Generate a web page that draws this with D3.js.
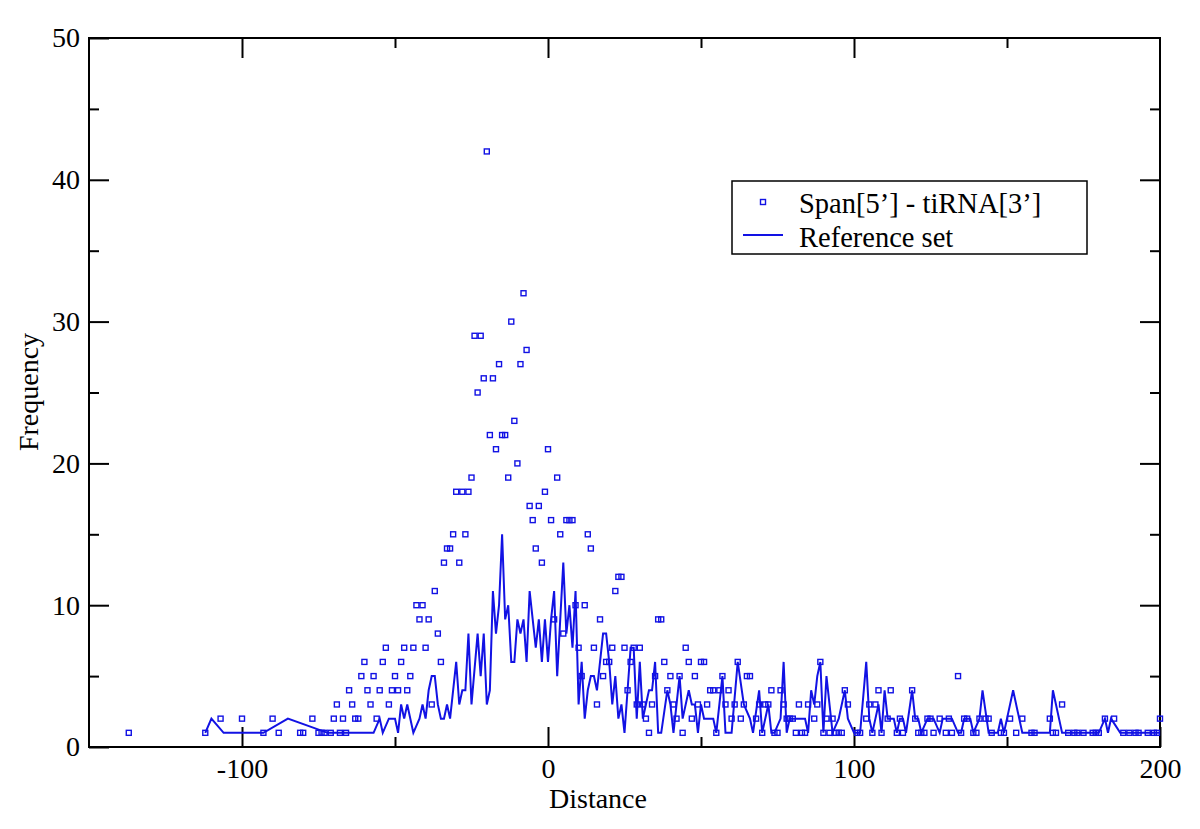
<!DOCTYPE html>
<html>
<head>
<meta charset="utf-8">
<script src="https://d3js.org/d3.v7.min.js"></script>
<style>
  html, body { margin: 0; padding: 0; background: #fff; }
  svg { display: block; }
  text { font-family: 'Liberation Serif', 'Times New Roman', serif; fill: #000; }
</style>
</head>
<body>
<div id="chart"></div>
<script>
// --- data ---
const spanDist = [-137, -112, -107, -100, -93, -90, -88, -81, -80, -77, -75, -74, -73,
  -71, -70, -69, -68, -67, -66, -65, -64, -63, -62, -61, -60, -59, -58, -57, -56, -55, -54, -53, -52, -51,
  -50, -49, -48, -47, -46, -45, -44, -43, -42, -41, -40, -39, -38, -37, -36, -35, -34, -33, -32, -31,
  -30, -29, -28, -27, -26, -25, -24, -23, -22, -21, -20, -19, -18, -17, -16, -15, -14, -13, -12, -11,
  -10, -9, -8, -7, -6, -5, -4, -3, -2, -1, 0, 1, 2, 3, 4, 5, 6, 7, 8, 9,
  10, 11, 12, 13, 14, 15, 16, 17, 18, 19, 20, 21, 22, 23, 24, 25, 26, 27, 28, 29,
  30, 31, 32, 33, 34, 35, 36, 37, 38, 39, 40, 41, 42, 43, 44, 45, 46, 47, 48, 49,
  50, 51, 52, 53, 54, 55, 56, 57, 58, 59, 60, 61, 62, 63, 64, 65, 66, 68, 69,
  70, 71, 72, 73, 74, 75, 76, 77, 78, 79, 80, 81, 82, 83, 84, 85, 87, 88, 89,
  90, 91, 92, 93, 94, 95, 96, 97, 98, 101, 102, 104, 105, 106, 107, 108, 109,
  111, 112, 114, 115, 116, 119, 120, 121, 122, 123, 124, 125, 126, 128,
  130, 131, 132, 134, 135, 136, 137, 139, 140, 141, 143, 144, 145, 148, 149,
  151, 153, 155, 158, 159, 164, 165, 166, 168, 170, 172, 173, 175, 178, 179,
  180, 182, 185, 188, 190, 192, 193, 196, 198, 199, 200];
const spanFreq = [1, 1, 2, 2, 1, 2, 1, 1, 1, 2, 1, 1, 1,
  1, 2, 3, 1, 2, 1, 4, 3, 2, 2, 5, 6, 4, 3, 5, 2, 4, 6, 7, 3, 4,
  5, 4, 6, 7, 4, 5, 7, 10, 9, 10, 7, 9, 3, 11, 8, 6, 13, 14, 14, 15,
  18, 13, 18, 15, 18, 19, 29, 25, 29, 26, 42, 22, 26, 21, 27, 22, 22, 19, 30, 23,
  20, 27, 32, 28, 17, 16, 14, 17, 13, 18, 21, 16, 9, 19, 15, 8, 16, 16, 16, 10,
  7, 5, 10, 15, 14, 7, 3, 9, 5, 6, 6, 7, 11, 12, 12, 7, 4, 6, 7, 3,
  7, 3, 2, 1, 3, 5, 9, 9, 6, 4, 5, 3, 2, 5, 1, 7, 6, 2, 5, 3,
  6, 6, 3, 4, 4, 1, 4, 5, 3, 4, 2, 3, 6, 2, 3, 5, 5, 2, 3,
  1, 3, 3, 4, 1, 1, 4, 3, 2, 2, 2, 1, 3, 1, 1, 3, 2, 3, 6,
  1, 2, 1, 2, 1, 1, 1, 4, 3, 1, 1, 2, 3, 1, 3, 4, 1,
  2, 4, 1, 2, 1, 4, 2, 1, 1, 1, 2, 2, 1, 2,
  1, 2, 1, 5, 1, 2, 2, 1, 1, 2, 2, 2, 1, 1, 1,
  2, 1, 2, 1, 1, 2, 1, 1, 3, 1, 1, 1, 1, 1, 1,
  1, 2, 2, 1, 1, 1, 1, 1, 1, 1, 2];

const refDist = [-112, -110, -106, -93, -85, -72, -57, -55, -54, -52, -50, -49, -48, -47, -46, -44, -42, -41,
  -40, -39, -38, -37, -36, -35, -34, -33, -32, -30, -29, -28, -27, -26, -25, -23, -22, -21,
  -20, -19, -18, -17, -16, -15, -14, -13, -12, -11, -10, -9, -8, -7, -6, -5, -4, -3, -2, -1,
  0, 1, 2, 3, 5, 6, 7, 8, 9, 10, 11, 12, 13, 14, 15, 16, 18, 19,
  20, 21, 22, 23, 24, 25, 26, 27, 28, 29, 30, 31, 32, 33, 34, 35, 36, 37, 39,
  40, 41, 43, 44, 46, 47, 48, 49, 50, 51, 53, 54, 55, 57, 58, 60, 62, 64, 66, 67, 69,
  70, 72, 73, 74, 76, 77, 78, 79, 80, 82, 84, 85, 86, 87, 88, 89,
  90, 91, 93, 95, 97, 98, 100, 102, 104, 105, 106, 107, 108, 109,
  110, 111, 113, 114, 115, 116, 117, 119, 120, 121, 122, 124, 126, 128, 129,
  131, 132, 134, 135, 136, 138, 139, 141, 142, 144, 147, 148, 149,
  150, 152, 154, 155, 164, 165, 167, 168, 180, 182, 183, 184, 187, 200];
const refFreq = [1, 2, 1, 1, 2, 1, 1, 2, 1, 2, 2, 1, 3, 2, 3, 1, 2, 3,
  2, 4, 5, 5, 3, 2, 2, 3, 2, 6, 3, 4, 4, 8, 3, 8, 5, 8,
  3, 4, 11, 8, 10, 15, 9, 10, 6, 6, 9, 8, 9, 6, 11, 9, 7, 9, 6, 9,
  6, 9, 11, 5, 13, 8, 10, 7, 11, 3, 6, 2, 4, 5, 5, 4, 8, 8,
  6, 3, 5, 2, 3, 1, 4, 7, 7, 2, 6, 2, 3, 4, 4, 6, 1, 1, 4,
  3, 1, 5, 2, 4, 3, 3, 1, 3, 2, 2, 2, 1, 5, 1, 1, 6, 3, 2, 1, 4,
  1, 3, 1, 1, 2, 6, 1, 2, 2, 2, 2, 1, 4, 3, 5, 6,
  1, 5, 1, 2, 4, 2, 1, 1, 6, 2, 1, 2, 3, 1,
  4, 2, 2, 1, 2, 2, 1, 4, 2, 2, 1, 2, 2, 1, 2,
  2, 2, 1, 1, 2, 2, 1, 2, 4, 1, 1, 2, 1,
  2, 4, 2, 1, 1, 4, 2, 1, 1, 2, 1, 2, 1, 1];

const xTickValues = [-100, 0, 100, 200];
const xMinorValues = [-50, 50, 150];
const yTickValues = [0, 10, 20, 30, 40, 50];
const yMinorValues = [5, 15, 25, 35, 45];
const seriesNames = ["Span[5\u2019] - tiRNA[3\u2019]", "Reference set"];

// --- layout ---
const W = 1200, H = 829;
const plot = { left: 89, right: 1160, top: 38, bottom: 747 };
const blue = "#1212e4";
const fontSize = 28;
const sq = 5; // marker side

const svg = d3.select("#chart").append("svg")
  .attr("width", W).attr("height", H);
svg.append("rect").attr("width", W).attr("height", H).attr("fill", "#fff");

const x = d3.scaleLinear().domain([-150, 200]).range([plot.left, plot.right]);
const y = d3.scaleLinear().domain([0, 50]).range([plot.bottom, plot.top]);

// plain hyphen for negatives, like the original plot
const fmt = d => String(d);

// axes: ticks point inwards, mirrored on top/right
const styleAxis = g => {
  g.select(".domain").remove();
  g.selectAll(".tick line").attr("stroke", "#000").attr("stroke-width", 2);
  g.selectAll(".tick text").style("font-size", fontSize + "px")
    .style("font-family", "'Liberation Serif', serif").attr("fill", "#000");
};

svg.append("g").attr("transform", `translate(0,${plot.bottom})`)
  .call(d3.axisBottom(x).tickValues(xTickValues).tickSize(-20).tickPadding(11).tickFormat(fmt))
  .call(styleAxis);
svg.append("g").attr("transform", `translate(0,${plot.bottom})`)
  .call(d3.axisBottom(x).tickValues(xMinorValues).tickSize(-10).tickFormat(""))
  .call(styleAxis);
svg.append("g").attr("transform", `translate(0,${plot.top})`)
  .call(d3.axisTop(x).tickValues(xTickValues.slice(0, 3)).tickSize(-20).tickFormat(""))
  .call(styleAxis);
svg.append("g").attr("transform", `translate(0,${plot.top})`)
  .call(d3.axisTop(x).tickValues(xMinorValues).tickSize(-10).tickFormat(""))
  .call(styleAxis);

svg.append("g").attr("transform", `translate(${plot.left},0)`)
  .call(d3.axisLeft(y).tickValues(yTickValues).tickSize(-20).tickPadding(9).tickFormat(fmt))
  .call(styleAxis);
svg.append("g").attr("transform", `translate(${plot.left},0)`)
  .call(d3.axisLeft(y).tickValues(yMinorValues).tickSize(-10).tickFormat(""))
  .call(styleAxis);
svg.append("g").attr("transform", `translate(${plot.right},0)`)
  .call(d3.axisRight(y).tickValues(yTickValues.slice(1, 5)).tickSize(-20).tickFormat(""))
  .call(styleAxis);
svg.append("g").attr("transform", `translate(${plot.right},0)`)
  .call(d3.axisRight(y).tickValues(yMinorValues).tickSize(-10).tickFormat(""))
  .call(styleAxis);

// frame
svg.append("rect")
  .attr("x", plot.left).attr("y", plot.top)
  .attr("width", plot.right - plot.left).attr("height", plot.bottom - plot.top)
  .attr("fill", "none").attr("stroke", "#000").attr("stroke-width", 2);

// reference set line
const refData = refDist.map((d, i) => [d, refFreq[i]]);
svg.append("path")
  .datum(refData)
  .attr("fill", "none").attr("stroke", blue).attr("stroke-width", 2)
  .attr("stroke-linejoin", "miter")
  .attr("d", d3.line().x(d => x(d[0])).y(d => y(d[1])));

// span squares
const spanData = spanDist.map((d, i) => [d, spanFreq[i]]);
svg.append("g").selectAll("rect")
  .data(spanData)
  .enter().append("rect")
  .attr("x", d => x(d[0]) - sq / 2).attr("y", d => y(d[1]) - sq / 2)
  .attr("width", sq).attr("height", sq)
  .attr("fill", "none").attr("stroke", blue).attr("stroke-width", 1.4);

// axis titles
svg.append("text")
  .attr("x", 598).attr("y", 808)
  .attr("text-anchor", "middle").style("font-size", fontSize + "px")
  .text("Distance");
svg.append("text")
  .attr("transform", "translate(38,392) rotate(-90)")
  .attr("text-anchor", "middle").style("font-size", fontSize + "px")
  .text("Frequency");

// legend
const legend = svg.append("g");
legend.append("rect")
  .attr("x", 732).attr("y", 181).attr("width", 355).attr("height", 73)
  .attr("fill", "#fff").attr("stroke", "#000").attr("stroke-width", 1.5);
legend.append("rect")
  .attr("x", 763 - sq / 2).attr("y", 202 - sq / 2).attr("width", sq).attr("height", sq)
  .attr("fill", "none").attr("stroke", blue).attr("stroke-width", 1.4);
legend.append("line")
  .attr("x1", 743).attr("x2", 783).attr("y1", 235).attr("y2", 235)
  .attr("stroke", blue).attr("stroke-width", 2);
legend.selectAll("text.lbl")
  .data(seriesNames)
  .enter().append("text").attr("class", "lbl")
  .attr("x", 799).attr("y", (d, i) => 213 + i * 34)
  .style("font-size", "28.5px")
  .text(d => d);
</script>
</body>
</html>
